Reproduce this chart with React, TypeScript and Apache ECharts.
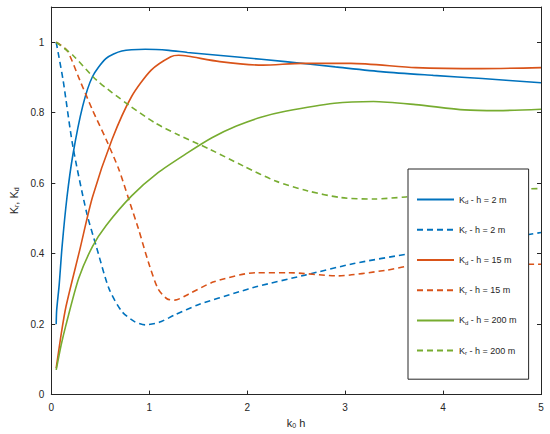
import React, { useEffect, useRef } from "react";
import * as echarts from "echarts";

const seriesNames = [
  "Kd - h = 2 m",
  "Kr - h = 2 m",
  "Kd - h = 15 m",
  "Kr - h = 15 m",
  "Kd - h = 200 m",
  "Kr - h = 200 m",
];

const kd2X = [0.05, 0.055, 0.08, 0.11, 0.16, 0.22, 0.32, 0.42, 0.56, 0.72, 0.96, 1.2, 1.39, 1.9, 2.39, 2.9, 3.39, 3.9, 4.4, 5];
const kd2Y = [0.2, 0.24, 0.31, 0.42, 0.56, 0.68, 0.818, 0.902, 0.954, 0.975, 0.98, 0.977, 0.971, 0.958, 0.945, 0.93, 0.916, 0.906, 0.897, 0.885];

const kr2X = [0.05, 0.12, 0.22, 0.36, 0.46, 0.59, 0.72, 0.85, 0.96, 1.1, 1.26, 1.5, 1.92, 2.09, 2.59, 3.09, 3.66, 4.0, 4.5, 5];
const kr2Y = [1.0, 0.893, 0.705, 0.517, 0.42, 0.3, 0.236, 0.207, 0.198, 0.205, 0.226, 0.255, 0.292, 0.306, 0.339, 0.372, 0.4, 0.415, 0.437, 0.46];

const kd15X = [0.05, 0.1, 0.15, 0.29, 0.42, 0.62, 0.82, 1.02, 1.22, 1.3, 1.4, 1.72, 2.16, 2.56, 3.06, 3.72, 4.39, 5];
const kd15Y = [0.075, 0.17, 0.25, 0.41, 0.56, 0.724, 0.846, 0.921, 0.959, 0.963, 0.96, 0.945, 0.935, 0.94, 0.94, 0.928, 0.925, 0.928];

const kr15X = [0.05, 0.16, 0.29, 0.42, 0.56, 0.69, 0.79, 0.89, 0.99, 1.09, 1.18, 1.26, 1.4, 1.66, 2.09, 2.42, 2.92, 3.42, 3.66, 4.2, 5];
const kr15Y = [1.0, 0.977, 0.893, 0.808, 0.724, 0.639, 0.555, 0.47, 0.377, 0.3, 0.272, 0.268, 0.285, 0.32, 0.346, 0.346, 0.337, 0.353, 0.365, 0.37, 0.37];

const kd200X = [0.05, 0.1, 0.15, 0.28, 0.42, 0.56, 0.82, 1.09, 1.39, 1.64, 1.89, 2.14, 2.39, 2.89, 3.29, 3.72, 4.22, 4.56, 5];
const kd200Y = [0.07, 0.14, 0.198, 0.33, 0.42, 0.48, 0.564, 0.63, 0.686, 0.729, 0.762, 0.787, 0.804, 0.827, 0.832, 0.823, 0.808, 0.806, 0.81];

const kr200X = [0.05, 0.22, 0.46, 0.79, 1.06, 1.29, 1.62, 1.96, 2.29, 2.62, 2.96, 3.29, 3.62, 4.0, 4.5, 5];
const kr200Y = [1.0, 0.963, 0.893, 0.822, 0.771, 0.738, 0.696, 0.649, 0.606, 0.578, 0.559, 0.555, 0.561, 0.57, 0.58, 0.585];

const xTicks = [0, 1, 2, 3, 4, 5];
const yTicks = [0, 0.2, 0.4, 0.6, 0.8, 1];

const seriesX = [kd2X, kr2X, kd15X, kr15X, kd200X, kr200X];
const seriesY = [kd2Y, kr2Y, kd15Y, kr15Y, kd200Y, kr200Y];
const colors = ["#0072BD", "#0072BD", "#D95319", "#D95319", "#77AC30", "#77AC30"];
const dashed = [false, true, false, true, false, true];

const FONT = "'Liberation Sans', Arial, Helvetica, sans-serif";
const AX = "#262626";

export default function App() {
  const ref = useRef<HTMLDivElement>(null);
  useEffect(() => {
    if (!ref.current) return;
    const chart = echarts.init(ref.current, null, { renderer: "svg" });
    const sub = { fontSize: 6, padding: [5, 0, 0, 0], fontFamily: FONT, color: AX };
    const axisCommon = {
      axisLine: { show: true, onZero: false, lineStyle: { color: AX, width: 1 } },
      splitLine: { show: false },
    };
    chart.setOption({
      animation: false,
      backgroundColor: "#ffffff",
      textStyle: { fontFamily: FONT },
      grid: { left: 41, right: 9, top: 7, bottom: 37, containLabel: false },
      xAxis: [
        {
          type: "value",
          min: 0,
          max: 5,
          interval: 1,
          ...axisCommon,
          axisTick: { show: true, inside: true, length: 4, lineStyle: { color: AX }, customValues: xTicks },
          axisLabel: { color: AX, fontSize: 10, margin: 8, fontFamily: FONT, customValues: xTicks },
          name: "k{s|0} h",
          nameLocation: "middle",
          nameGap: 17,
          nameTextStyle: { color: AX, fontSize: 11, fontFamily: FONT, rich: { s: { ...sub, fontSize: 7, padding: [5, 0, 0, 0] } } },
        },
        {
          type: "value",
          position: "top",
          min: 0,
          max: 5,
          interval: 1,
          ...axisCommon,
          axisTick: { show: true, inside: true, length: 4, lineStyle: { color: AX }, customValues: xTicks },
          axisLabel: { show: false },
        },
      ],
      yAxis: [
        {
          type: "value",
          min: 0,
          max: 1.1,
          ...axisCommon,
          axisTick: { show: true, inside: true, length: 4, lineStyle: { color: AX }, customValues: yTicks },
          axisLabel: { color: AX, fontSize: 10, margin: 7, fontFamily: FONT, customValues: yTicks },
          name: "K{s|r}, K{s|d}",
          nameLocation: "middle",
          nameGap: 24,
          nameTextStyle: { color: AX, fontSize: 11, fontFamily: FONT, rich: { s: { ...sub, fontSize: 7, padding: [5, 0, 0, 0] } } },
        },
        {
          type: "value",
          position: "right",
          min: 0,
          max: 1.1,
          ...axisCommon,
          axisTick: { show: true, inside: true, length: 4, lineStyle: { color: AX }, customValues: yTicks },
          axisLabel: { show: false },
        },
      ],
      legend: {
        orient: "vertical",
        left: 408,
        top: 169,
        width: 100,
        itemWidth: 37,
        itemHeight: 14,
        itemGap: 19,
        padding: [25, 12, 23, 8],
        borderColor: AX,
        borderWidth: 1,
        backgroundColor: "#ffffff",
        itemStyle: { opacity: 0 },
        data: seriesNames,
        formatter: (name: string) => "K{s|" + name.charAt(1) + "}" + name.slice(2),
        textStyle: {
          color: AX,
          fontSize: 9,
          fontFamily: FONT,
          rich: { s: sub },
        },
      },
      series: seriesNames.map((name, i) => ({
        name,
        type: "line",
        xAxisIndex: 0,
        yAxisIndex: 0,
        showSymbol: false,
        symbol: "none",
        smooth: 0.25,
        data: seriesX[i].map((x, j) => [x, seriesY[i][j]]),
        color: colors[i],
        lineStyle: { color: colors[i], width: 1.6, type: dashed[i] ? [6, 4] : "solid" },
      })),
    });
    return () => chart.dispose();
  }, []);
  return <div ref={ref} style={{ position: "fixed", left: 0, top: 0, width: 550, height: 434 }} />;
}
